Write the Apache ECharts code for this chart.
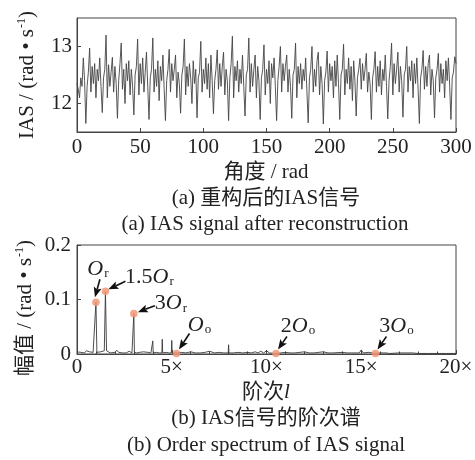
<!DOCTYPE html>
<html>
<head>
<meta charset="utf-8">
<script src="https://cdn.jsdelivr.net/npm/echarts@6/dist/echarts.min.js"></script>
<style>
  html, body { margin: 0; padding: 0; background: #fff; }
  #chart { width: 475px; height: 460px; }
</style>
</head>
<body>
<div id="chart"></div>
<script>
// Reconstructed IAS signal, one sample per rad from 0 to 300 rad
const angleStep = 1;
const iasValues = [
  12.35, 12.25, 12.1, 12.45, 12.3, 12.8, 12.4, 11.65, 12.3, 12.55,
  12.97, 12.2, 12.65, 12.35, 12.7, 12.1, 12.6, 12.4, 12.8, 12.3, 11.84, 12.45, 12.6,
  13.2, 12.1, 12.68, 12.3, 12.55, 12.81, 12.2, 12.65, 12.35, 11.74, 12.4, 12.7,
  13.06, 12.25, 12.6, 12.0, 12.7, 12.4, 12.75, 12.15, 12.6, 12.3, 11.8, 12.5, 12.65,
  13.13, 12.15, 12.7, 12.35, 12.8, 12.2, 12.55, 12.9, 12.3, 11.72, 12.45, 12.6,
  13.15, 12.2, 12.6, 12.3, 12.75, 12.05, 12.65, 12.4, 12.85, 12.25, 11.7, 12.4, 12.6,
  12.95, 12.2, 12.7, 12.4, 12.6, 12.85, 12.1, 12.55, 12.35, 11.83, 12.5, 12.65,
  13.13, 12.15, 12.65, 12.3, 12.7, 12.45, 12.0, 12.75, 12.35, 12.6, 11.75, 12.45, 12.55,
  13.09, 12.2, 12.6, 12.35, 12.8, 12.25, 12.7, 12.1, 12.85, 12.4, 11.82, 12.4, 12.6,
  12.94, 12.25, 12.7, 12.3, 12.65, 12.9, 12.15, 12.6, 12.4, 11.7, 12.45, 12.7,
  13.18, 12.1, 12.65, 12.4, 12.75, 12.2, 12.6, 12.35, 12.85, 12.3, 11.78, 12.5, 12.6,
  13.15, 12.2, 12.7, 12.3, 12.6, 12.85, 12.1, 12.65, 12.4, 11.72, 12.45, 12.6,
  13.03, 12.15, 12.6, 12.35, 12.75, 12.0, 12.7, 12.45, 12.8, 12.3, 11.7, 12.4, 12.65,
  13.0, 12.2, 12.7, 12.4, 12.65, 12.85, 12.2, 12.6, 12.3, 11.74, 12.5, 12.6,
  13.06, 12.1, 12.65, 12.35, 12.7, 12.25, 12.6, 12.4, 12.8, 12.2, 11.66, 12.45, 12.6,
  13.0, 12.2, 12.6, 12.3, 12.75, 12.9, 12.15, 12.65, 12.35, 11.64, 12.4, 12.55,
  12.92, 12.2, 12.7, 12.4, 12.65, 12.1, 12.75, 12.3, 12.85, 12.35, 11.72, 12.5, 12.6,
  13.04, 12.15, 12.6, 12.35, 12.8, 12.25, 12.65, 12.05, 12.75, 12.4, 11.78, 12.45, 12.6,
  12.79, 12.25, 12.7, 12.4, 12.6, 12.88, 12.2, 12.55, 12.35, 11.72, 12.45, 12.6,
  12.91, 12.2, 12.65, 12.3, 12.75, 12.15, 12.6, 12.4, 12.85, 12.3, 11.73, 12.4, 12.65,
  13.06, 12.15, 12.7, 12.35, 12.6, 12.9, 12.2, 12.65, 12.4, 11.76, 12.5, 12.6,
  13.0, 12.2, 12.65, 12.4, 12.75, 12.1, 12.7, 12.35, 12.8, 12.25, 11.65, 12.45, 12.6,
  12.93, 12.25, 12.65, 12.3, 12.7, 12.85, 12.15, 12.6, 12.4, 11.75, 12.45, 12.6,
  12.88, 12.2, 12.7, 12.35, 12.6, 12.1, 12.75, 12.4, 12.8, 12.3, 11.72, 12.45, 12.55,
  12.82, 12.7
];

// Order spectrum of the IAS signal
const spectrumOrder = [
  0, 0.1, 0.2, 0.3, 0.4, 0.5, 0.55, 0.65, 0.75, 0.85, 0.95, 1.0, 1.05, 1.15, 1.25, 1.35,
  1.44, 1.5, 1.56, 1.65, 1.75, 1.85, 2.0, 2.1, 2.2, 2.3, 2.4, 2.5, 2.6, 2.75, 2.9, 2.97,
  3.0, 3.03, 3.15, 3.3, 3.5, 3.6, 3.75, 3.9, 3.98, 4.0, 4.02, 4.2, 4.35, 4.48, 4.5, 4.52,
  4.7, 4.85, 4.98, 5.0, 5.02, 5.25, 5.5, 5.75, 6.0, 6.25, 6.5, 6.75, 7.0, 7.25, 7.5, 7.6,
  7.75, 7.98, 8.0, 8.02, 8.25, 8.5, 8.75, 9.0, 9.2, 9.4, 9.55, 9.7, 9.85, 10.0, 10.15,
  10.5, 10.75, 11.0, 11.25, 11.5, 12.0, 12.25, 12.5, 13.0, 13.25, 13.5, 14.0, 14.25, 14.5,
  14.9, 15.0, 15.1, 15.4, 15.75, 16.0, 16.3, 16.5, 17.0, 17.7, 18.0, 18.5, 19.0, 19.5, 20.0
];
const spectrumAmp = [
  0.004, 0.002, 0.003, 0.005, 0.002, 0.006, 0.003, 0.004, 0.002, 0.003, 0.002, 0.095, 0.003, 0.002, 0.004, 0.003,
  0.006, 0.115, 0.006, 0.003, 0.002, 0.004, 0.003, 0.007, 0.003, 0.006, 0.002, 0.004, 0.002, 0.005, 0.002, 0.003,
  0.074, 0.003, 0.002, 0.003, 0.004, 0.002, 0.003, 0.002, 0.002, 0.024, 0.002, 0.003, 0.002, 0.002, 0.027, 0.002,
  0.003, 0.002, 0.002, 0.025, 0.002, 0.002, 0.003, 0.002, 0.004, 0.002, 0.002, 0.003, 0.005, 0.002, 0.003, 0.004,
  0.002, 0.002, 0.017, 0.002, 0.002, 0.003, 0.002, 0.003, 0.002, 0.004, 0.002, 0.005, 0.002, 0.006, 0.002,
  0.001, 0.002, 0.003, 0.002, 0.002, 0.004, 0.002, 0.002, 0.004, 0.002, 0.002, 0.003, 0.002, 0.002,
  0.002, 0.0075, 0.002, 0.003, 0.001, 0.002, 0.002, 0.001, 0.002, 0.002, 0.001, 0.001, 0.001, 0.001, 0.001
];

// Marked orders: rotation order Or and its multiples, Oo and its harmonics
const markOrder = [1.0, 1.5, 3.0, 5.25, 10.5, 15.75];
const markAmp = [0.095, 0.115, 0.074, 0.001, 0.001, 0.001];
const markName = ['{o|O}{s|r}', '{n|1.5}{o|O}{s|r}', '{n|3}{o|O}{s|r}', '{o|O}{s|o}', '{n|2}{o|O}{s|o}', '{n|3}{o|O}{s|o}'];

// Tick labels
const topXTicks = [0, 50, 100, 150, 200, 250, 300];
const topYTicks = [12, 13];
const bottomYTicks = [0, 0.1, 0.2];

// Callout geometry (pixels relative to the marked point): arrow tail, arrow tip, label centre
const callout = [
  { tail: [4, -23], tip: [-1, -5], label: [2, -34] },
  { tail: [20, -10], tip: [3, -2], label: [44, -15] },
  { tail: [21, -8], tip: [4, -1.5], label: [37, -11] },
  { tail: [13, -20], tip: [2.5, -4], label: [23, -29] },
  { tail: [11, -17], tip: [2, -4], label: [22, -28] },
  { tail: [11, -17], tip: [2, -4], label: [21, -28] }
];

const SERIF = "'Liberation Serif', 'Times New Roman', 'Noto Sans CJK SC', serif";
const INK = '#222';
const FRAME = '#444';
const FS = 21;

const labelRich = {
  o: { fontFamily: SERIF, fontSize: 22, fontStyle: 'italic', fill: INK, lineHeight: 24, verticalAlign: 'bottom' },
  n: { fontFamily: SERIF, fontSize: 22, fill: INK, lineHeight: 24, verticalAlign: 'bottom' },
  s: { fontFamily: SERIF, fontSize: 13, fill: INK, lineHeight: 13, verticalAlign: 'bottom', padding: [0, 0, 0, 1] }
};

const chart = echarts.init(document.getElementById('chart'), null, { renderer: 'canvas' });

const axisLabelBase = { fontFamily: SERIF, fontSize: FS, color: INK };
const axisLineBase = { show: true, lineStyle: { color: FRAME, width: 1 } };

function arrowGroup(p, c) {
  const t0 = [p[0] + c.tail[0], p[1] + c.tail[1]];
  const t1 = [p[0] + c.tip[0], p[1] + c.tip[1]];
  const dx = t1[0] - t0[0], dy = t1[1] - t0[1];
  const len = Math.sqrt(dx * dx + dy * dy);
  const ux = dx / len, uy = dy / len;
  const hl = 10, hw = 4;
  const bx = t1[0] - ux * hl, by = t1[1] - uy * hl;
  return [
    { type: 'line', shape: { x1: t0[0], y1: t0[1], x2: bx + ux * 2, y2: by + uy * 2 }, style: { stroke: '#111', lineWidth: 1.6 } },
    { type: 'polygon', shape: { points: [[t1[0], t1[1]], [bx - uy * hw, by + ux * hw], [bx + ux * 2, by + uy * 2], [bx + uy * hw, by - ux * hw]] }, style: { fill: '#111' } }
  ];
}

const option = {
  animation: false,
  backgroundColor: '#fff',
  grid: [
    { left: 77, top: 18, width: 379, height: 114, show: true, borderColor: FRAME, borderWidth: 1, outerBoundsMode: 'none', containLabel: false },
    { left: 77, top: 245, width: 379, height: 109, show: true, borderColor: FRAME, borderWidth: 1, outerBoundsMode: 'none', containLabel: false }
  ],
  xAxis: [
    {
      gridIndex: 0, type: 'value', min: 0, max: 300, interval: 50,
      axisLine: axisLineBase,
      axisTick: { show: true, inside: true, length: 4, lineStyle: { color: FRAME } },
      axisLabel: Object.assign({ margin: 5, customValues: topXTicks }, axisLabelBase),
      splitLine: { show: false }
    },
    {
      gridIndex: 1, type: 'value', min: 0, max: 20, interval: 5,
      axisLine: axisLineBase,
      axisTick: { show: true, inside: true, length: 4, lineStyle: { color: FRAME } },
      minorTick: { show: true, splitNumber: 5, length: 2.5, lineStyle: { color: FRAME } },
      axisLabel: Object.assign({ margin: 3, formatter: v => (v === 0 ? '0' : v + '×') }, axisLabelBase),
      splitLine: { show: false }
    }
  ],
  yAxis: [
    {
      gridIndex: 0, type: 'value', min: 11.5, max: 13.5,
      axisLine: axisLineBase,
      axisTick: { show: true, inside: true, length: 4, customValues: topYTicks, lineStyle: { color: FRAME } },
      axisLabel: Object.assign({ margin: 5, customValues: topYTicks }, axisLabelBase),
      splitLine: { show: false }
    },
    {
      gridIndex: 1, type: 'value', min: 0, max: 0.2, interval: 0.1,
      axisLine: axisLineBase,
      axisTick: { show: true, inside: true, length: 4, lineStyle: { color: FRAME } },
      axisLabel: Object.assign({ margin: 6, customValues: bottomYTicks, formatter: v => (v === 0 ? '0' : String(+v.toFixed(1))) }, axisLabelBase),
      splitLine: { show: false }
    }
  ],
  series: [
    {
      type: 'line', xAxisIndex: 0, yAxisIndex: 0,
      data: iasValues.map((v, i) => [i * angleStep, v]),
      showSymbol: false, symbol: 'none', sampling: 'none',
      lineStyle: { color: '#444', width: 0.9 }
    },
    {
      type: 'line', xAxisIndex: 1, yAxisIndex: 1,
      data: spectrumOrder.map((o, i) => [o, spectrumAmp[i]]),
      showSymbol: false, symbol: 'none', sampling: 'none',
      lineStyle: { color: '#3a3a3a', width: 0.9 }
    },
    {
      type: 'custom', xAxisIndex: 1, yAxisIndex: 1, clip: false, z: 10,
      data: markOrder.map((o, i) => [o, markAmp[i], i]),
      encode: { x: 0, y: 1 },
      renderItem: function (params, api) {
        const i = api.value(2);
        const p = api.coord([api.value(0), api.value(1)]);
        const c = callout[i];
        return {
          type: 'group',
          children: [
            { type: 'circle', shape: { cx: p[0], cy: p[1], r: 3.8 }, style: { fill: 'rgba(242,150,120,0.85)' } }
          ].concat(arrowGroup(p, c)).concat([
            {
              type: 'text',
              x: p[0] + c.label[0], y: p[1] + c.label[1],
              style: { text: markName[i], rich: labelRich, align: 'center', verticalAlign: 'middle' }
            }
          ])
        };
      }
    }
  ],
  graphic: [
    {
      type: 'text', x: 27, y: 75, rotation: Math.PI / 2,
      style: {
        text: '{n|IAS / (rad • s}{u|-1}{n|)}', align: 'center', verticalAlign: 'middle',
        rich: {
          n: { fontFamily: SERIF, fontSize: FS, fill: INK, lineHeight: 22, verticalAlign: 'bottom' },
          u: { fontFamily: SERIF, fontSize: 12, fill: INK, lineHeight: 22, verticalAlign: 'top', padding: [0, 0, 0, 1] }
        }
      }
    },
    {
      type: 'text', x: 25, y: 308, rotation: Math.PI / 2,
      style: {
        text: '{n|幅值 / (rad • s}{u|-1}{n|)}', align: 'center', verticalAlign: 'middle',
        rich: {
          n: { fontFamily: SERIF, fontSize: FS, fill: INK, lineHeight: 22, verticalAlign: 'bottom' },
          u: { fontFamily: SERIF, fontSize: 12, fill: INK, lineHeight: 22, verticalAlign: 'top', padding: [0, 0, 0, 1] }
        }
      }
    },
    { type: 'text', x: 266, y: 172, style: { text: '角度 / rad', font: FS + 'px ' + SERIF, fill: INK, align: 'center', verticalAlign: 'middle' } },
    { type: 'text', x: 266, y: 198, style: { text: '(a) 重构后的IAS信号', font: FS + 'px ' + SERIF, fill: INK, align: 'center', verticalAlign: 'middle' } },
    { type: 'text', x: 265, y: 224, style: { text: '(a) IAS signal after reconstruction', font: FS + 'px ' + SERIF, fill: INK, align: 'center', verticalAlign: 'middle' } },
    {
      type: 'text', x: 266, y: 392,
      style: {
        text: '{n|阶次}{i|l}', align: 'center', verticalAlign: 'middle',
        rich: {
          n: { fontFamily: SERIF, fontSize: FS, fill: INK },
          i: { fontFamily: SERIF, fontSize: FS, fontStyle: 'italic', fill: INK }
        }
      }
    },
    { type: 'text', x: 266, y: 418, style: { text: '(b) IAS信号的阶次谱', font: FS + 'px ' + SERIF, fill: INK, align: 'center', verticalAlign: 'middle' } },
    { type: 'text', x: 266, y: 445, style: { text: '(b) Order spectrum of IAS signal', font: FS + 'px ' + SERIF, fill: INK, align: 'center', verticalAlign: 'middle' } }
  ]
};

chart.setOption(option);
</script>
</body>
</html>
